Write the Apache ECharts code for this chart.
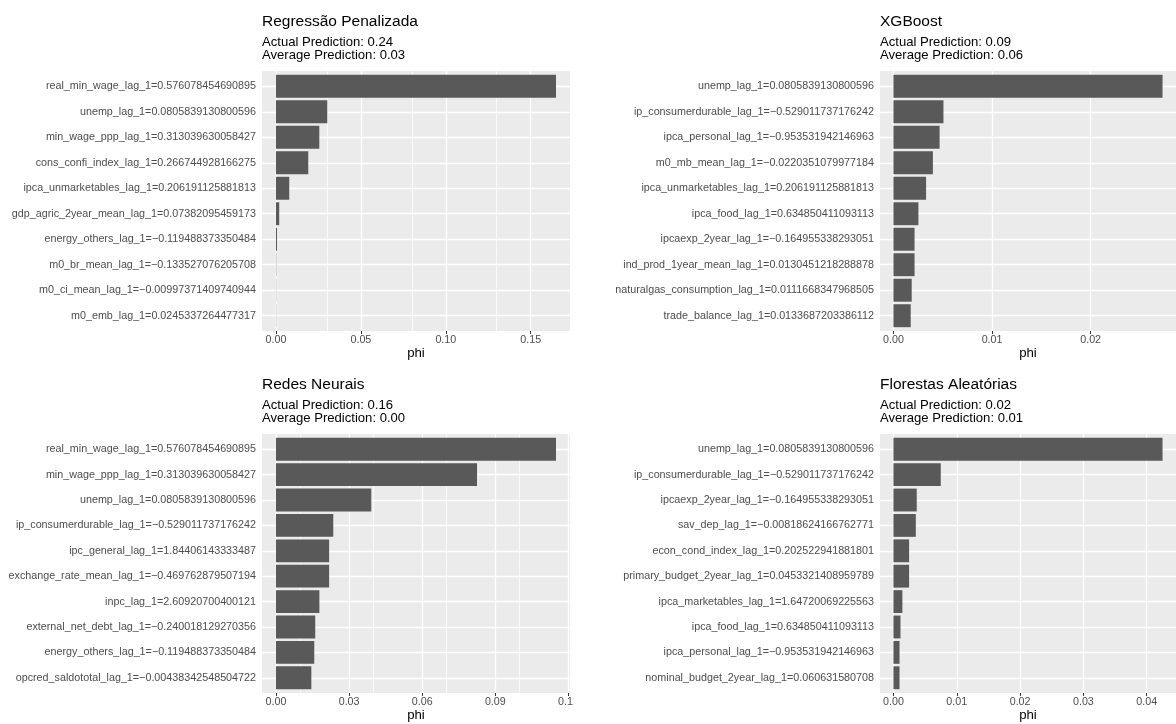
<!DOCTYPE html>
<html>
<head>
<meta charset="utf-8">
<script src="https://cdn.jsdelivr.net/npm/echarts@6/dist/echarts.min.js"></script>
<style>
  html, body { margin: 0; padding: 0; background: #ffffff; }
  #chart { width: 1176px; height: 724px; }
</style>
</head>
<body>
<div id="chart"></div>
<script>
// Shapley contributions (phi) of the ten strongest features, one panel per model.
const modelNames = ['Regressão Penalizada', 'XGBoost', 'Redes Neurais', 'Florestas Aleatórias'];
const actualPrediction = ['0.24', '0.09', '0.16', '0.02'];
const averagePrediction = ['0.03', '0.06', '0.00', '0.01'];

const regFeatures = [
  'real_min_wage_lag_1=0.576078454690895',
  'unemp_lag_1=0.0805839130800596',
  'min_wage_ppp_lag_1=0.313039630058427',
  'cons_confi_index_lag_1=0.266744928166275',
  'ipca_unmarketables_lag_1=0.206191125881813',
  'gdp_agric_2year_mean_lag_1=0.07382095459173',
  'energy_others_lag_1=\u22120.119488373350484',
  'm0_br_mean_lag_1=\u22120.133527076205708',
  'm0_ci_mean_lag_1=\u22120.00997371409740944',
  'm0_emb_lag_1=0.0245337264477317'
];
const regPhi = [0.1649, 0.0302, 0.0255, 0.0190, 0.0078, 0.0019, 0.0006, 0.00015, 0.0001, 0.0001];
const regTicks = [0, 0.05, 0.10, 0.15];

const xgbFeatures = [
  'unemp_lag_1=0.0805839130800596',
  'ip_consumerdurable_lag_1=\u22120.529011737176242',
  'ipca_personal_lag_1=\u22120.953531942146963',
  'm0_mb_mean_lag_1=\u22120.0220351079977184',
  'ipca_unmarketables_lag_1=0.206191125881813',
  'ipca_food_lag_1=0.634850411093113',
  'ipcaexp_2year_lag_1=\u22120.164955338293051',
  'ind_prod_1year_mean_lag_1=0.0130451218288878',
  'naturalgas_consumption_lag_1=0.0111668347968505',
  'trade_balance_lag_1=0.0133687203386112'
];
const xgbPhi = [0.02729, 0.00507, 0.00468, 0.00400, 0.00331, 0.00253, 0.00214, 0.00214, 0.00185, 0.00175];
const xgbTicks = [0, 0.01, 0.02];

const nnFeatures = [
  'real_min_wage_lag_1=0.576078454690895',
  'min_wage_ppp_lag_1=0.313039630058427',
  'unemp_lag_1=0.0805839130800596',
  'ip_consumerdurable_lag_1=\u22120.529011737176242',
  'ipc_general_lag_1=1.84406143333487',
  'exchange_rate_mean_lag_1=\u22120.469762879507194',
  'inpc_lag_1=2.60920700400121',
  'external_net_debt_lag_1=\u22120.240018129270356',
  'energy_others_lag_1=\u22120.119488373350484',
  'opcred_saldototal_lag_1=\u22120.00438342548504722'
];
const nnPhi = [0.1149, 0.0825, 0.0391, 0.0235, 0.0218, 0.0218, 0.0178, 0.0161, 0.0157, 0.0145];
const nnTicks = [0, 0.03, 0.06, 0.09, 0.12];

const rfFeatures = [
  'unemp_lag_1=0.0805839130800596',
  'ip_consumerdurable_lag_1=\u22120.529011737176242',
  'ipcaexp_2year_lag_1=\u22120.164955338293051',
  'sav_dep_lag_1=\u22120.00818624166762771',
  'econ_cond_index_lag_1=0.202522941881801',
  'primary_budget_2year_lag_1=0.0453321408959789',
  'ipca_marketables_lag_1=1.64720069225563',
  'ipca_food_lag_1=0.634850411093113',
  'ipca_personal_lag_1=\u22120.953531942146963',
  'nominal_budget_2year_lag_1=0.060631580708'
];
const rfPhi = [0.0425, 0.00747, 0.00368, 0.00353, 0.00247, 0.00247, 0.00141, 0.00111, 0.00096, 0.00096];
const rfTicks = [0, 0.01, 0.02, 0.03, 0.04];

const FONT = '"Liberation Sans", Arial, Helvetica, sans-serif';
const PANEL_BG = '#EBEBEB';
const BAR = '#595959';

// Panel boxes (plot area) for the 2x2 arrangement.
const panels = [
  { features: regFeatures, phi: regPhi, ticks: regTicks, left: 262, top: 71,  width: 308, height: 260 },
  { features: xgbFeatures, phi: xgbPhi, ticks: xgbTicks, left: 880, top: 71,  width: 308, height: 260 },
  { features: nnFeatures,  phi: nnPhi,  ticks: nnTicks,  left: 262, top: 434, width: 308, height: 259 },
  { features: rfFeatures,  phi: rfPhi,  ticks: rfTicks,  left: 880, top: 434, width: 308, height: 259 }
];

const grid = [], xAxis = [], yAxis = [], series = [], title = [];

panels.forEach((p, i) => {
  const maxPhi = Math.max(...p.phi);
  const xMin = -0.05 * maxPhi;
  const xMax = 1.05 * maxPhi;
  const step = p.ticks[1] - p.ticks[0];
  const minor = [];
  for (let k = 0; k <= p.ticks.length; k++) {
    const m = (k - 0.5) * step;
    if (m > xMin && m < xMax) minor.push(m);
  }
  // categories fill 10 of 10.2 units of the panel height
  const inset = p.height / (p.features.length + 0.2) * 0.1;
  const bg = 2 * i, dg = 2 * i + 1;

  grid.push({ left: p.left, top: p.top, width: p.width, height: p.height,
              show: true, backgroundColor: PANEL_BG, borderWidth: 0 });
  grid.push({ left: p.left, top: p.top + inset, width: p.width, height: p.height - 2 * inset,
              show: false });

  xAxis.push({
    gridIndex: bg, type: 'value', min: xMin, max: xMax,
    minInterval: step, maxInterval: step,
    axisLine: { show: false },
    axisTick: { show: true, length: 3, customValues: p.ticks, lineStyle: { color: '#333333', width: 1 } },
    axisLabel: { customValues: p.ticks, formatter: v => v.toFixed(2), margin: 3,
                 fontFamily: FONT, fontSize: 10.7, lineHeight: 12, color: '#4D4D4D' },
    splitLine: { show: false },
    name: 'phi', nameLocation: 'middle', nameGap: 16,
    nameTextStyle: { fontFamily: FONT, fontSize: 13.2, lineHeight: 13, color: '#000000' }
  });
  yAxis.push({ gridIndex: bg, type: 'value', min: 0, max: 1, show: false });

  xAxis.push({ gridIndex: dg, type: 'value', min: xMin, max: xMax, show: false });
  yAxis.push({
    gridIndex: dg, type: 'category', data: p.features, inverse: true,
    axisLine: { show: false },
    axisTick: { show: true, length: 3, alignWithLabel: true, lineStyle: { color: '#333333', width: 1 } },
    axisLabel: { margin: 6, fontFamily: FONT, fontSize: 10.75, color: '#4D4D4D' },
    splitLine: { show: false }
  });

  // vertical grid lines (major + minor), kept beneath the bars
  series.push({
    type: 'line', xAxisIndex: bg, yAxisIndex: bg, data: [], z: 1, silent: true, showSymbol: false,
    markLine: {
      z: 1, silent: true, symbol: 'none', animation: false, label: { show: false },
      lineStyle: { color: '#ffffff', type: 'solid' },
      data: p.ticks.map(v => ({ xAxis: v, lineStyle: { width: 1.3, color: '#ffffff', type: 'solid' } }))
        .concat(minor.map(v => ({ xAxis: v, lineStyle: { width: 0.7, color: '#ffffff', type: 'solid' } })))
    }
  });
  // horizontal grid lines at each feature
  series.push({
    type: 'line', xAxisIndex: dg, yAxisIndex: dg, data: [], z: 1, silent: true, showSymbol: false,
    markLine: {
      z: 1, silent: true, symbol: 'none', animation: false, label: { show: false },
      lineStyle: { color: '#ffffff', width: 1.3, type: 'solid' },
      data: p.features.map((f, k) => ({ yAxis: k }))
    }
  });
  // contribution bars
  series.push({
    type: 'bar', xAxisIndex: dg, yAxisIndex: dg, data: p.phi, z: 10, silent: true,
    barCategoryGap: '10%', itemStyle: { color: BAR }, animation: false
  });

  const tTop = p.top - 57.4;
  title.push({
    left: p.left, top: tTop + 0.6, padding: 0, itemGap: 5.8,
    text: modelNames[i],
    subtext: 'Actual Prediction: ' + actualPrediction[i] + '\nAverage Prediction: ' + averagePrediction[i],
    textStyle: { fontFamily: FONT, fontSize: 15.5, lineHeight: 16, fontWeight: 'normal', color: '#000000' },
    subtextStyle: { fontFamily: FONT, fontSize: 13.1, lineHeight: 12.6, color: '#000000' }
  });
});

const chart = echarts.init(document.getElementById('chart'), null, { renderer: 'canvas' });
chart.setOption({
  animation: false,
  backgroundColor: '#ffffff',
  title, grid, xAxis, yAxis, series,
  graphic: [{
    // the neighbouring plot's white margin overlaps the last tick label of the lower-left plot
    type: 'rect', left: 573.5, top: 694, shape: { width: 16, height: 30 },
    style: { fill: '#ffffff' }, z: 100, silent: true
  }]
});
</script>
</body>
</html>
